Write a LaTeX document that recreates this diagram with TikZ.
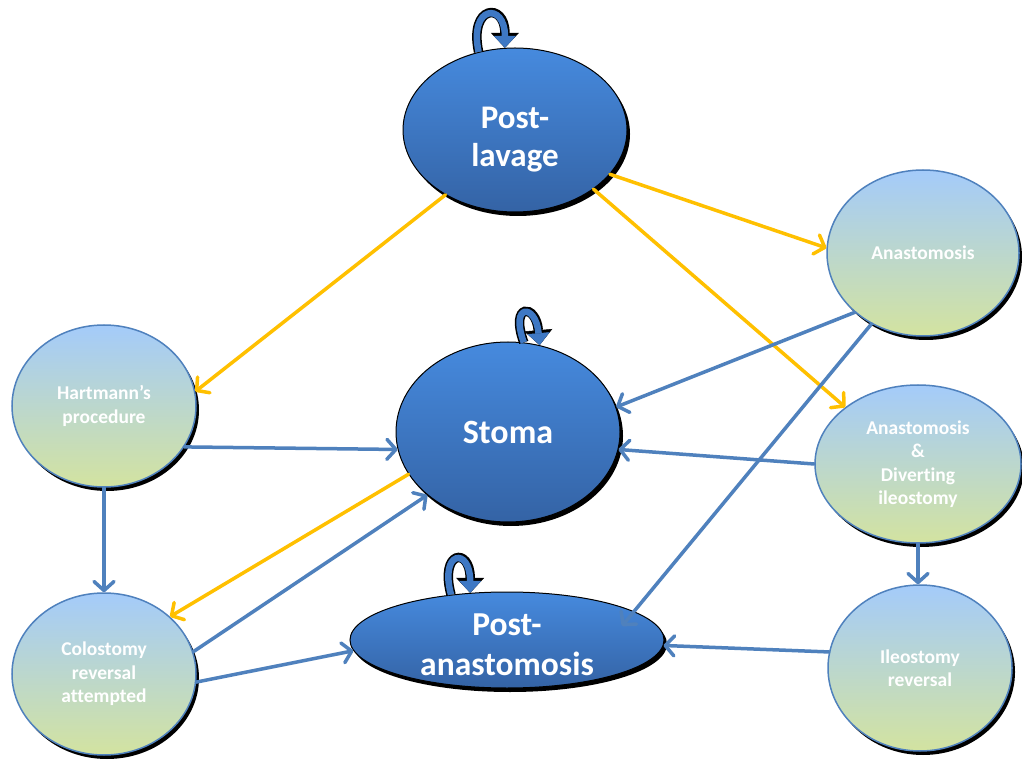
\documentclass[tikz,border=0pt]{standalone}
\usepackage{fontspec}
\setmainfont{Carlito}[Ligatures=NoCommon]
\usetikzlibrary{arrows.meta,shapes.geometric,shadows,calc}
\definecolor{darkTop}{RGB}{70,138,222}
\definecolor{darkBot}{RGB}{52,99,165}
\definecolor{lightTop}{RGB}{164,203,250}
\definecolor{lightBot}{RGB}{211,227,160}
\definecolor{edgeBlue}{RGB}{79,129,189}
\definecolor{edgeGold}{RGB}{255,192,0}
\definecolor{loopBlue}{RGB}{62,120,196}

\begin{document}
\begin{tikzpicture}[x=1pt,y=1pt,
    darkstate/.style={ellipse, draw=black, line width=1pt,
      top color=darkTop, bottom color=darkBot,
      general shadow={fill=black, shadow xshift=3pt, shadow yshift=-4pt},
      text=white, align=center, inner sep=0pt},
    darktext/.style={text=white, align=center, inner sep=0pt},
    lightstate/.style={ellipse, draw=edgeBlue, line width=1.5pt,
      top color=lightTop, bottom color=lightBot,
      general shadow={fill=black, shadow xshift=3pt, shadow yshift=-4pt},
      text=white, align=center, inner sep=0pt,
      font=\bfseries\fontsize{19.5}{23.5}\selectfont},
    goldedge/.style={draw=edgeGold, line width=3.5pt, line cap=round,
      -{Straight Barb[round,length=9pt,width=20pt]}},
    blueedge/.style={draw=edgeBlue, line width=3.5pt, line cap=round,
      -{Straight Barb[round,length=9pt,width=20pt]}},
    selfloop/.style={draw=loopBlue, line width=6.5pt,
      -{Triangle[length=12pt,width=22pt,line width=0.5pt]},
      preaction={draw=black, line width=9.5pt,
        -{Triangle[length=15pt,width=28pt,line width=0.5pt]}}}]
  \useasboundingbox[fill=white] (0,0) rectangle (1022,761);

  % states
  \node[darkstate, minimum width=224pt, minimum height=164pt,
        label={[darktext, yshift=-10pt, font=\bfseries\fontsize{33}{38}\selectfont]center:{Post-\\lavage}}]
        (pl) at (515,631) {};
  \node[darkstate, minimum width=224pt, minimum height=180pt,
        font=\bfseries\fontsize{34}{38}\selectfont] (st) at (508,329) {Stoma};
  \node[darkstate, minimum width=314pt, minimum height=96pt,
        label={[darktext, yshift=-5pt, font=\bfseries\fontsize{33.5}{40}\selectfont]center:{Post-\\anastomosis}}]
        (pa) at (507,121) {};
  \node[lightstate, minimum width=184pt, minimum height=162pt] (hp) at (104,355) {Hartmann’s\\procedure};
  \node[lightstate, minimum width=184pt, minimum height=162pt] (cr) at (104,87) {Colostomy\\reversal\\attempted};
  \node[lightstate, minimum width=192pt, minimum height=166pt] (an) at (923,508) {Anastomosis};
  \node[lightstate, minimum width=206pt, minimum height=158pt] (ad) at (918,297) {Anastomosis\\\&\\Diverting\\ileostomy};
  \node[lightstate, minimum width=184pt, minimum height=166pt] (ir) at (920,93) {Ileostomy\\reversal};
  \coordinate (paIn) at ($(pa.center)+(115,14)$);

  % self loops
  \draw[selfloop] (pl.115) .. controls +(102:48) and +(90:46) .. (pl.97);
  \draw[selfloop] (st.80) .. controls +(110:42) and +(95:42) .. (st.70);
  \draw[selfloop] (pa.141) .. controls +(105:46) and +(90:46) .. (pa.128);

  % transitions
  \draw[goldedge] (pl.223) -- (hp.9);
  \draw[goldedge] (pl.-25) -- (an.177);
  \draw[goldedge] (pl.-37.5) -- (ad.142);
  \draw[goldedge] (st.203.5) -- (cr.41.8);
  \draw[blueedge] (hp.-27.6) -- (st.189);
  \draw[blueedge] (hp.south) -- (cr.north);
  \draw[blueedge] (cr.14.8) -- (st.218);
  \draw[blueedge] (cr.-5) -- (pa.184.5);
  \draw[blueedge] (an.221) -- (st.13.3);
  \draw[blueedge] (an.234.5) -- (paIn);
  \draw[blueedge] (ad.180) -- (st.-9.3);
  \draw[blueedge] (ad.south) -- (ad.south |- ir.north);
  \draw[blueedge] (ir.170) -- (pa.-2.6);
\end{tikzpicture}
\end{document}
